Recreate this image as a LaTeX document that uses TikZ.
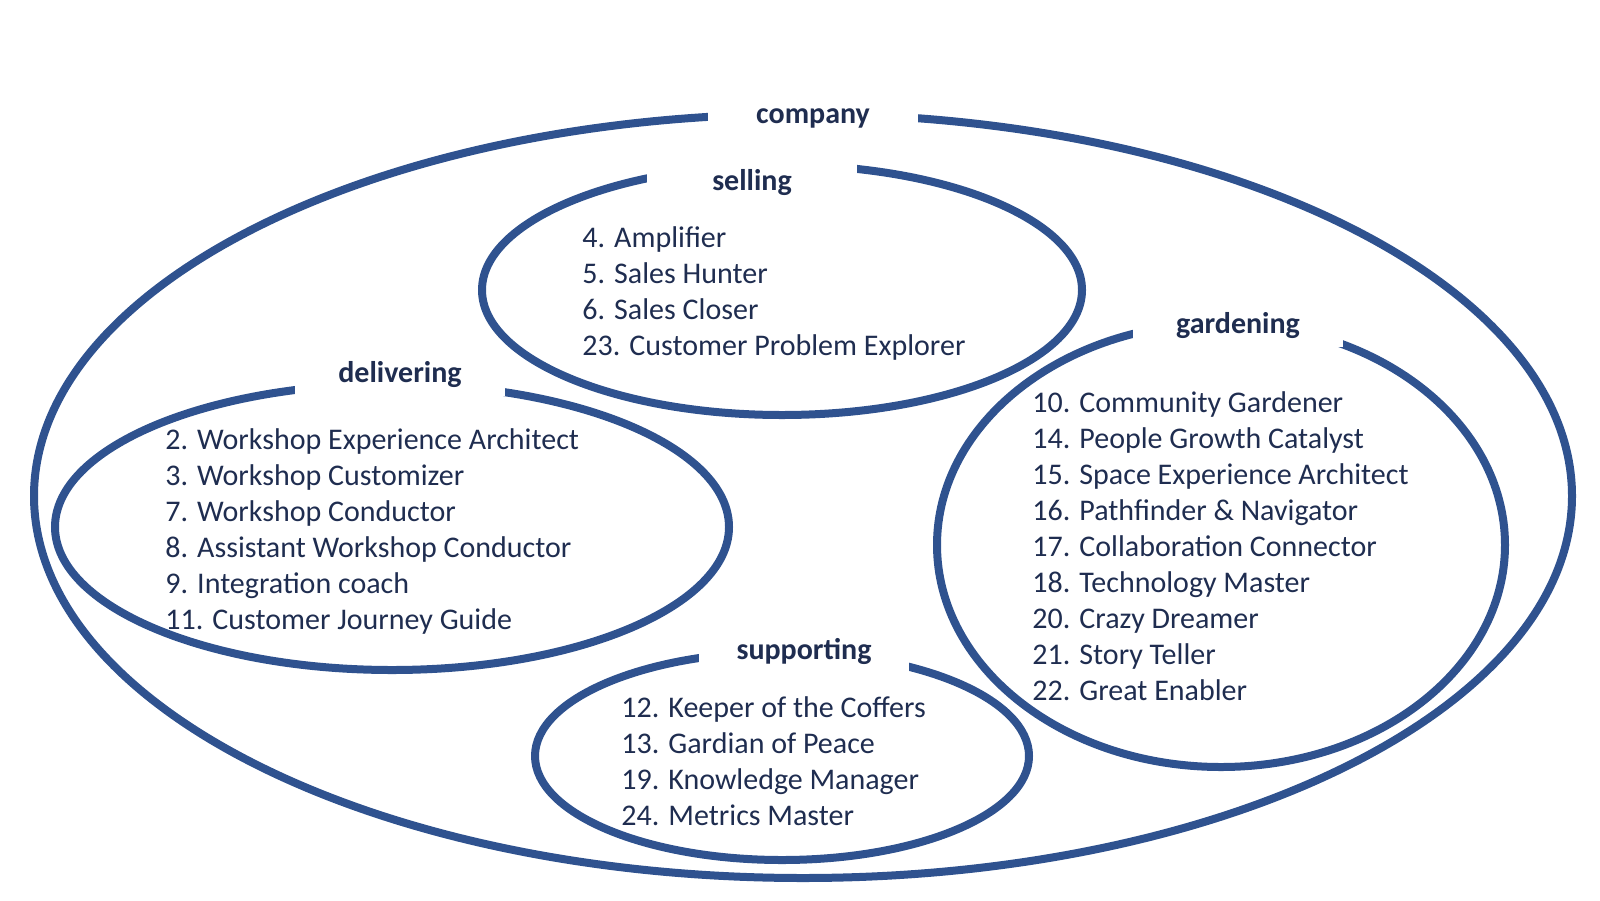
\documentclass[tikz,border=0pt]{standalone}
\usepackage{fontspec}
\setmainfont{Carlito}
\usepackage{tikz}
\usetikzlibrary{positioning,shapes.geometric}
\definecolor{ringblue}{HTML}{2F528F}
\definecolor{navytext}{HTML}{1F2D50}
\tikzset{every picture/.style={x=0.5pt,y=-0.5pt}}
\tikzset{group/.style={draw=ringblue,line width=4pt,ellipse,inner sep=0pt}}
\tikzset{grouplabel/.style={fill=white,inner sep=0pt,minimum width=105pt,minimum height=22pt,
    text=navytext,font=\fontsize{15}{18}\selectfont\bfseries,anchor=base}}
% multi-line nodes: base is the baseline of the last line
\tikzset{roles/.style={inner sep=0pt,align=left,anchor=base west,
    text=navytext,font=\fontsize{15}{18}\selectfont}}

\begin{document}
\begin{tikzpicture}
      \useasboundingbox (0,0) rectangle (1600,900);
      % the five groups
      \node[group,minimum width=769pt,minimum height=382pt] (company) at (803,496) {};
      \node[group,minimum width=300pt,minimum height=125pt] (selling) at (782,290) {};
      \node[group,minimum width=337pt,minimum height=143pt] (delivering) at (392,527) {};
      \node[group,minimum width=284pt,minimum height=222pt] (gardening) at (1221,545) {};
      \node[group,minimum width=247pt,minimum height=104pt] (supporting) at (782,756) {};
      % titles cut into the rings
      \node[grouplabel] (company-title) at (813,123) {company};
      \node[grouplabel] (selling-title) at (752,190) {selling};
      \node[grouplabel] (delivering-title) at (400,382) {delivering};
      \node[grouplabel] (gardening-title) at (1238,333) {gardening};
      \node[grouplabel] (supporting-title) at (804,659) {supporting};
      % roles
      \node[roles] (selling-roles) at (582,355) {4. Amplifier\\5. Sales Hunter\\6. Sales Closer\\23. Customer Problem Explorer};
      \node[roles] (delivering-roles) at (165,629) {2. Workshop Experience Architect\\3. Workshop Customizer\\7. Workshop Conductor\\8. Assistant Workshop Conductor\\9. Integration coach\\11. Customer Journey Guide};
      \node[roles] (gardening-roles) at (1032,700) {10. Community Gardener\\14. People Growth Catalyst\\15. Space Experience Architect\\16. Pathfinder \& Navigator\\17. Collaboration Connector\\18. Technology Master\\20. Crazy Dreamer\\21. Story Teller\\22. Great Enabler};
      \node[roles] (supporting-roles) at (621,825) {12. Keeper of the Coffers\\13. Gardian of Peace\\19. Knowledge Manager\\24. Metrics Master};
    \end{tikzpicture}
\end{document}
